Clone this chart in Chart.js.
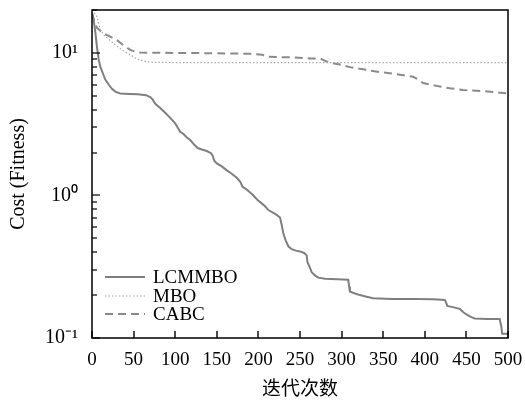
<!DOCTYPE html>
<html>
<head>
<meta charset="utf-8">
<script src="https://cdn.jsdelivr.net/npm/chart.js@4.4.1/dist/chart.umd.min.js"></script>
<style>
html,body{margin:0;padding:0;background:#fff}
</style>
</head>
<body>
<canvas id="c" width="525" height="408"></canvas>
<script>
// iteration -> cost
let lcmmboX = [0,2,4,6,8,10,13,16,20,24,28,34,45,55,65,70,73,76,82,88,94,100,103,106,110,114,118,122,127,132,138,143,145,147,150,156,162,168,174,178,181,186,190,194,199,204,208,212,217,222,226,228,230,233,236,240,245,250,255,258,259,262,264,268,272,280,295,308,309,310,316,322,330,338,360,390,410,424,426,427,435,442,446,451,456,460,475,490,492,493,500]
let lcmmboY = [19,17,14,11,9,8,7.2,6.5,6,5.6,5.35,5.2,5.15,5.12,5.05,4.9,4.7,4.4,4.1,3.8,3.5,3.2,3.0,2.8,2.7,2.55,2.45,2.3,2.15,2.1,2.05,1.98,1.9,1.75,1.68,1.6,1.5,1.42,1.33,1.25,1.15,1.1,1.05,1.0,0.93,0.88,0.84,0.79,0.76,0.73,0.7,0.62,0.54,0.48,0.44,0.42,0.41,0.405,0.395,0.38,0.34,0.31,0.29,0.275,0.265,0.26,0.258,0.256,0.23,0.212,0.205,0.2,0.195,0.19,0.188,0.188,0.187,0.185,0.175,0.168,0.164,0.16,0.152,0.145,0.14,0.137,0.136,0.136,0.12,0.107,0.107]

let mboX = [0,3,6,10,16,22,28,36,46,52,58,66,75,100,200,300,400,500]
let mboY = [20,19,17.9,14.5,13,12.2,11.4,10.5,9.7,9.2,8.93,8.65,8.58,8.56,8.56,8.56,8.56,8.56]

let cabcX = [0,3,6,10,15,22,30,38,46,52,58,100,150,190,205,210,240,262,275,282,290,300,310,330,345,358,386,392,398,415,430,446,470,500]
let cabcY = [19,16.5,15,14.3,13.6,13,12.3,11.3,10.5,10.2,10.05,10.0,9.95,9.85,9.7,9.4,9.3,9.15,9.1,8.7,8.45,8.25,7.95,7.6,7.35,7.2,6.8,6.5,6.15,5.85,5.65,5.5,5.4,5.2]

let xTicks = [0,50,100,150,200,250,300,350,400,450,500]
let supers = {"1":"10\u00B9","0":"10\u2070","-1":"10\u207B\u00B9"}

function pts(xs, ys){
  return xs.map((x,i)=>({x:x, y:ys[i]}))
}

let serif = "'Liberation Serif', 'Times New Roman', serif"

// inward ticks, frame and legend inside the plot
let framePlugin = {
  id:"frame",
  afterDraw(chart){
    let ctx = chart.ctx
    let a = chart.chartArea
    let xs = chart.scales.x
    let ys = chart.scales.y
    ctx.save()
    ctx.setLineDash([])
    ctx.fillStyle = "#000"
    xs.ticks.forEach(t=>{
      let px = Math.round(xs.getPixelForValue(t.value))
      ctx.fillRect(px-0.7, a.bottom-7, 1.4, 7)
    })
    ys.ticks.forEach(t=>{
      let e = Math.floor(Math.log10(t.value)+1e-9)
      let m = t.value / Math.pow(10, e)
      if(Math.abs(m-Math.round(m)) > 1e-6) return
      let py = Math.round(ys.getPixelForValue(t.value))
      ctx.fillRect(a.left, py-0.6, Math.round(m)==1 ? 8 : 5, 1.2)
    })
    ctx.strokeStyle = "#000"
    ctx.lineWidth = 1.5
    ctx.strokeRect(a.left, a.top, a.right-a.left, a.bottom-a.top)

    // legend
    let rows = [-61,-42,-24]
    chart.data.datasets.forEach((ds,i)=>{
      let y = a.bottom + rows[i]
      ctx.beginPath()
      ctx.strokeStyle = ds.borderColor
      ctx.lineWidth = ds.borderWidth
      ctx.setLineDash(ds.borderDash || [])
      ctx.moveTo(a.left+13, y)
      ctx.lineTo(a.left+53, y)
      ctx.stroke()
      ctx.setLineDash([])
      ctx.fillStyle = "#000"
      ctx.font = "19px " + serif
      ctx.textBaseline = "middle"
      ctx.fillText(ds.label, a.left+61, y+1)
    })
    ctx.restore()
  }
}

new Chart(document.getElementById("c"),{
  type:"line",
  data:{
    datasets:[
      {
        label:"LCMMBO",
        data:pts(lcmmboX, lcmmboY),
        borderColor:"#7f7f7f",
        borderWidth:2,
        pointRadius:0,
        fill:false
      },
      {
        label:"MBO",
        data:pts(mboX, mboY),
        borderColor:"#a8a8a8",
        borderWidth:1.2,
        borderDash:[1.5,2],
        pointRadius:0,
        fill:false
      },
      {
        label:"CABC",
        data:pts(cabcX, cabcY),
        borderColor:"#8a8a8a",
        borderWidth:2,
        borderDash:[8,5],
        pointRadius:0,
        fill:false
      }
    ]
  },
  options:{
    responsive:false,
    animation:false,
    layout:{padding:{top:10,right:17,left:0,bottom:0}},
    plugins:{legend:{display:false},tooltip:{enabled:false}},
    scales:{
      x:{
        type:"linear",
        min:0,
        max:500,
        afterBuildTicks(scale){ scale.ticks = xTicks.map(v=>({value:v})) },
        afterFit(scale){ scale.height = 70; scale.paddingLeft = 0; scale.paddingRight = 0 },
        grid:{display:false, drawTicks:false},
        border:{display:false},
        ticks:{color:"#000", padding:11, maxRotation:0, autoSkip:false, font:{family:serif, size:19}},
        title:{display:true, text:"迭代次数", color:"#000", padding:{top:0,bottom:9}, font:{family:"'Noto Sans CJK SC', sans-serif", size:19}}
      },
      y:{
        type:"logarithmic",
        min:0.1,
        max:20,
        afterFit(scale){ scale.width = 92; scale.paddingTop = 0; scale.paddingBottom = 0 },
        grid:{display:false, drawTicks:false},
        border:{display:false},
        ticks:{
          color:"#000",
          padding:14,
          autoSkip:false,
          font:{family:serif, size:20},
          callback:function(v){
            let e = Math.log10(v)
            if(Math.abs(e-Math.round(e)) < 1e-9) return supers[String(Math.round(e))] || ""
            return ""
          }
        },
        title:{display:true, text:"Cost (Fitness)", color:"#000", padding:{top:7,bottom:0}, font:{family:serif, size:20}}
      }
    }
  },
  plugins:[framePlugin]
})
</script>
</body>
</html>
